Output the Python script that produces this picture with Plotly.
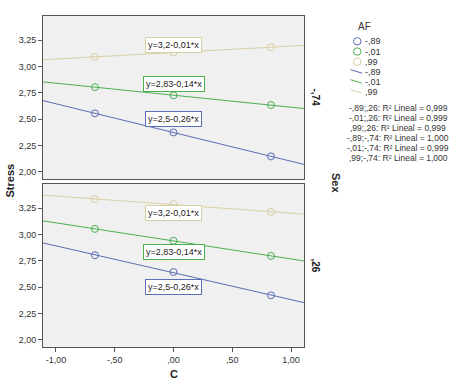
import numpy as np
import plotly.graph_objects as go

# ---- data ----
c_values = [-0.668, 0.0, 0.829]
af_levels = ["-,89", "-,01", ",99"]
sex_levels = ["-,74", ",26"]
# stress means per sex panel, per AF level
stress_sex_m74 = {
    "-,89": [2.554, 2.373, 2.145],
    "-,01": [2.804, 2.725, 2.633],
    ",99": [3.091, 3.133, 3.183],
}
stress_sex_26 = {
    "-,89": [2.803, 2.643, 2.421],
    "-,01": [3.053, 2.940, 2.796],
    ",99": [3.336, 3.288, 3.215],
}
fit_labels = {"-,89": "y=2,5-0,26*x", "-,01": "y=2,83-0,14*x", ",99": "y=3,2-0,01*x"}
fit_label_y = {"-,89": 2.5, "-,01": 2.83, ",99": 3.2}
r2_lines = [
    "-,89;,26: R² Lineal = 0,999",
    "-,01;,26: R² Lineal = 0,999",
    ",99;,26: R² Lineal = 0,999",
    "-,89;-,74: R² Lineal = 1,000",
    "-,01;-,74: R² Lineal = 0,999",
    ",99;-,74: R² Lineal = 1,000",
]
y_ticks = [2.0, 2.25, 2.5, 2.75, 3.0, 3.25]
y_ticktext = ["2,00", "2,25", "2,50", "2,75", "3,00", "3,25"]
x_ticks = [-1.0, -0.5, 0.0, 0.5, 1.0]
x_ticktext = ["-1,00", "-,50", ",00", ",50", "1,00"]

colors = {"-,89": "#5b6db5", "-,01": "#4cb050", ",99": "#d8d0a5"}
FONT = "Liberation Sans, Arial, sans-serif"
W, H = 455, 386
XR = [-1.11, 1.11]
YR = [1.93, 3.48]

fig = go.Figure()

panels = [("y", stress_sex_m74), ("y2", stress_sex_26)]
for yaxis, data in panels:
    xa = "x" if yaxis == "y" else "x2"
    for af in af_levels:
        vals = data[af]
        slope, icpt = np.polyfit(c_values, vals, 1)
        xs = np.array(XR)
        fig.add_trace(go.Scatter(x=xs, y=icpt + slope * xs, mode="lines",
                                 line=dict(color=colors[af], width=1),
                                 xaxis=xa, yaxis=yaxis,
                                 showlegend=False, hoverinfo="skip"))
        fig.add_trace(go.Scatter(x=c_values, y=vals, mode="markers",
                                 marker=dict(symbol="circle-open", size=7,
                                             color=colors[af], line=dict(width=1)),
                                 xaxis=xa, yaxis=yaxis, showlegend=False))
        fig.add_annotation(x=0, y=fit_label_y[af], xref=xa, yref=yaxis,
                           xanchor="center", yanchor="middle",
                           text=fit_labels[af], showarrow=False,
                           font=dict(family=FONT, size=9, color="#222"),
                           bgcolor="white", bordercolor=colors[af], borderwidth=1,
                           borderpad=2)

xdom = [43 / W, 304 / W]
ax_common = dict(range=XR, showline=True, linecolor="#555", mirror=True,
                 showgrid=False, zeroline=False, domain=xdom)
yax_common = dict(range=YR, tickvals=y_ticks, ticktext=y_ticktext, ticks="outside",
                  ticklen=4, tickcolor="#555", showline=True, linecolor="#555",
                  mirror=True, showgrid=False, zeroline=False,
                  tickfont=dict(family=FONT, size=9, color="#333"))

fig.update_layout(
    width=W, height=H, margin=dict(l=0, r=0, t=0, b=0),
    paper_bgcolor="white", plot_bgcolor="#f0f0f0",
    font=dict(family=FONT),
    xaxis=dict(**ax_common, anchor="y", showticklabels=False, ticks=""),
    xaxis2=dict(**ax_common, anchor="y2", tickvals=x_ticks, ticktext=x_ticktext,
                ticks="outside", ticklen=4, tickcolor="#555",
                tickfont=dict(family=FONT, size=9, color="#333")),
    yaxis=dict(**yax_common, domain=[1 - 179 / H, 1 - 16 / H], anchor="x"),
    yaxis2=dict(**yax_common, domain=[1 - 347 / H, 1 - 184 / H], anchor="x2"),
    showlegend=False,
)

def px(x):
    return x / W

def py(y):
    return 1 - y / H

def label(x, y, text, size=9, angle=0, xanchor="center", color="#333"):
    fig.add_annotation(x=px(x), y=py(y), xref="paper", yref="paper", text=text,
                       textangle=angle, xanchor=xanchor, yanchor="middle",
                       showarrow=False, font=dict(family=FONT, size=size, color=color))

# axis titles
label(9.5, 181, "<b>Stress</b>", size=11, angle=-90, color="#222")
label(173.5, 374, "<b>C</b>", size=11, color="#222")
label(336, 183, "<b>Sex</b>", size=11, angle=90, color="#222")
for lab, yc in zip(sex_levels, [97.5, 265.5]):
    label(315, yc, "<b>" + lab + "</b>", size=10, angle=90, color="#222")

# legend
label(356, 26, "AF", size=10, xanchor="left")
for i, af in enumerate(af_levels):
    cy = 41.3 + i * 10.2
    fig.add_shape(type="circle", xref="paper", yref="paper",
                  x0=px(353.5), x1=px(361), y0=py(cy + 3.7), y1=py(cy - 3.7),
                  line=dict(color=colors[af], width=1))
    label(363, cy, af, xanchor="left")
for i, af in enumerate(af_levels):
    cy = 71.7 + i * 10
    fig.add_shape(type="line", xref="paper", yref="paper",
                  x0=px(350.5), x1=px(362), y0=py(cy - 2), y1=py(cy + 1.5),
                  line=dict(color=colors[af], width=1))
    label(363, cy, af, xanchor="left")
for i, t in enumerate(r2_lines):
    label(398, 108 + i * 10, t, size=8.5)

fig.write_html("out.html", config={"displayModeBar": False},
               post_script="document.body.style.margin='0';")
